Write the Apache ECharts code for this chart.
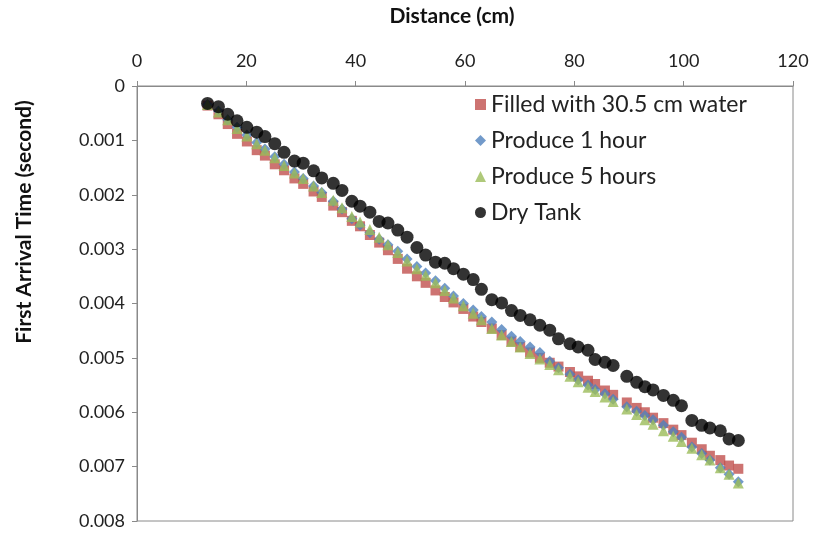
<!DOCTYPE html>
<html>
<head>
<meta charset="utf-8">
<script src="https://cdn.jsdelivr.net/npm/echarts@6/dist/echarts.min.js"></script>
<style>
  html, body { margin: 0; padding: 0; background: #fff; }
  #chart { width: 820px; height: 536px; }
</style>
</head>
<body>
<div id="chart"></div>
<script>
// Receiver positions along the tank (cm)
const distance = [
  12.9, 14.9, 16.6, 18.3, 20.1, 21.9, 23.4, 25.2, 26.9, 28.8,
  30.4, 32.3, 33.8, 35.9, 37.5, 39.3, 40.8, 42.6, 44.3, 45.9,
  47.7, 49.4, 51.2, 52.8, 54.6, 56.3, 57.9, 59.7, 61.5, 63.0,
  64.9, 66.7, 68.5, 70.1, 71.9, 73.7, 75.5, 77.1, 79.2, 80.7,
  82.5, 83.8, 85.6, 87.1, 89.6, 91.4, 92.9, 94.4, 96.3, 98.1,
  99.6, 101.5, 103.3, 104.8, 106.7, 108.3, 110.0
];

// First arrival times (s) for each tank condition
const filledWater = [
  0.00036, 0.00052, 0.00070, 0.00088, 0.00102, 0.00118, 0.00128, 0.00144, 0.00155, 0.00170,
  0.00180, 0.00194, 0.00204, 0.00220, 0.00232, 0.00248, 0.00258, 0.00274, 0.00288, 0.00302,
  0.00318, 0.00336, 0.00350, 0.00362, 0.00376, 0.00388, 0.00398, 0.00410, 0.00424, 0.00434,
  0.00446, 0.00458, 0.00470, 0.00480, 0.00490, 0.00500, 0.00509, 0.00516, 0.00526, 0.00534,
  0.00542, 0.00548, 0.00560, 0.00568, 0.00582, 0.00592, 0.00600, 0.00610, 0.00620, 0.00632,
  0.00642, 0.00656, 0.00668, 0.00680, 0.00688, 0.00698, 0.00704
];
const produce1h = [
  0.00034, 0.00046, 0.00062, 0.00076, 0.00090, 0.00104, 0.00116, 0.00130, 0.00144, 0.00158,
  0.00170, 0.00184, 0.00196, 0.00212, 0.00226, 0.00244, 0.00256, 0.00270, 0.00282, 0.00292,
  0.00304, 0.00318, 0.00332, 0.00344, 0.00358, 0.00372, 0.00386, 0.00400, 0.00412, 0.00424,
  0.00434, 0.00448, 0.00460, 0.00470, 0.00480, 0.00490, 0.00506, 0.00518, 0.00530, 0.00540,
  0.00550, 0.00558, 0.00566, 0.00576, 0.00590, 0.00598, 0.00606, 0.00614, 0.00624, 0.00636,
  0.00646, 0.00664, 0.00676, 0.00688, 0.00702, 0.00714, 0.00728
];
const produce5h = [
  0.00034, 0.00048, 0.00062, 0.00078, 0.00092, 0.00106, 0.00118, 0.00132, 0.00146, 0.00160,
  0.00170, 0.00184, 0.00196, 0.00210, 0.00224, 0.00240, 0.00250, 0.00264, 0.00278, 0.00292,
  0.00306, 0.00322, 0.00336, 0.00348, 0.00362, 0.00376, 0.00390, 0.00404, 0.00418, 0.00430,
  0.00446, 0.00458, 0.00470, 0.00480, 0.00492, 0.00502, 0.00512, 0.00522, 0.00534, 0.00544,
  0.00554, 0.00562, 0.00572, 0.00580, 0.00594, 0.00604, 0.00614, 0.00622, 0.00634, 0.00644,
  0.00654, 0.00666, 0.00678, 0.00688, 0.00702, 0.00714, 0.00730
];
const dryTank = [
  0.00032, 0.00038, 0.00052, 0.00064, 0.00076, 0.00085, 0.00093, 0.00106, 0.00122, 0.00138,
  0.00142, 0.00156, 0.00169, 0.00179, 0.00192, 0.00212, 0.00221, 0.00232, 0.00249, 0.00252,
  0.00265, 0.00278, 0.00297, 0.00311, 0.00324, 0.00326, 0.00336, 0.00346, 0.00356, 0.00374,
  0.00393, 0.00399, 0.00413, 0.00422, 0.00430, 0.00440, 0.00449, 0.00465, 0.00474, 0.00480,
  0.00486, 0.00503, 0.00508, 0.00514, 0.00534, 0.00545, 0.00553, 0.00559, 0.00569, 0.00578,
  0.00588, 0.00615, 0.00624, 0.00629, 0.00634, 0.00649, 0.00652
];

const seriesNames = ['Filled with 30.5 cm water', 'Produce 1 hour', 'Produce 5 hours', 'Dry Tank'];
const xTitle = 'Distance (cm)';
const yTitle = 'First Arrival Time (second)';
const xTicks = { min: 0, max: 120, interval: 20 };
const yTicks = { min: 0, max: 0.008, interval: 0.001 };

const pair = (ys) => distance.map((x, i) => [x, ys[i]]);
const FONT = 'Lato';
const titleStyle = { fontFamily: FONT, fontSize: 21, fontWeight: 'bold', fill: '#111' };

const chart = echarts.init(document.getElementById('chart'), null, { renderer: 'canvas' });

chart.setOption({
  animation: false,
  backgroundColor: '#ffffff',
  textStyle: { fontFamily: FONT },
  grid: {
    left: 137, top: 86, width: 656, height: 435,
    show: true, borderColor: '#8a8a8a', borderWidth: 1, backgroundColor: 'transparent'
  },
  // Axis titles placed as free text
  graphic: [
    {
      type: 'text', x: 452, y: 16,
      style: Object.assign({ text: xTitle, align: 'center', verticalAlign: 'middle' }, titleStyle)
    },
    {
      type: 'text', x: 24, y: 222, rotation: Math.PI / 2,
      style: Object.assign({ text: yTitle, align: 'center', verticalAlign: 'middle' }, titleStyle)
    }
  ],
  legend: {
    orient: 'vertical',
    left: 470, top: 88,
    itemGap: 13,
    itemWidth: 11, itemHeight: 11,
    textStyle: { fontFamily: FONT, fontSize: 23, color: '#222' },
    data: [
      { name: seriesNames[0], icon: 'rect' },
      { name: seriesNames[1], icon: 'diamond' },
      { name: seriesNames[2], icon: 'triangle' },
      { name: seriesNames[3], icon: 'circle' }
    ]
  },
  xAxis: {
    type: 'value',
    position: 'top',
    min: xTicks.min, max: xTicks.max, interval: xTicks.interval,
    axisLine: { show: true, lineStyle: { color: '#8a8a8a', width: 1 } },
    axisTick: { show: true, length: 5, lineStyle: { color: '#8a8a8a' } },
    axisLabel: { fontFamily: FONT, fontSize: 18, color: '#222', margin: 16 },
    splitLine: { show: false }
  },
  yAxis: {
    type: 'value',
    inverse: true,
    min: yTicks.min, max: yTicks.max, interval: yTicks.interval,
    axisLine: { show: true, lineStyle: { color: '#8a8a8a', width: 1 } },
    axisTick: { show: true, length: 5, lineStyle: { color: '#8a8a8a' } },
    axisLabel: {
      fontFamily: FONT, fontSize: 18, color: '#222', margin: 12,
      formatter: (v) => (v === 0 ? '0' : v.toFixed(3))
    },
    splitLine: { show: false }
  },
  series: [
    {
      name: seriesNames[0], type: 'scatter', symbol: 'rect', symbolSize: 10,
      itemStyle: { color: '#C0504D' }, data: pair(filledWater), z: 2
    },
    {
      name: seriesNames[1], type: 'scatter', symbol: 'diamond', symbolSize: 11,
      itemStyle: { color: '#4F81BD' }, data: pair(produce1h), z: 3
    },
    {
      name: seriesNames[2], type: 'scatter', symbol: 'triangle', symbolSize: 11,
      itemStyle: { color: '#9BBB59' }, data: pair(produce5h), z: 4
    },
    {
      name: seriesNames[3], type: 'scatter', symbol: 'circle', symbolSize: 13,
      itemStyle: { color: '#000000' }, data: pair(dryTank), z: 5
    }
  ]
});
</script>
</body>
</html>
